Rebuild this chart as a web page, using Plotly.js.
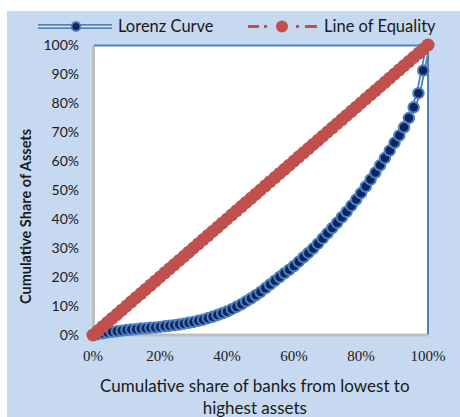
<!DOCTYPE html>
<html><head><meta charset="utf-8">
<script src="https://cdn.plot.ly/plotly-3.0.1.min.js"></script>
<style>html,body{margin:0;padding:0;background:#fff}#chart{width:460px;height:417px}</style>
</head><body><div id="chart"></div>
<script>
// Lorenz curve: cumulative share of assets (%) for banks sorted from lowest to highest assets
const lorenzY = [0,0.3,0.6,0.9,1.1,1.3,1.5,1.7,1.9,2.0,2.2,2.3,2.5,2.6,2.8,3.0,3.2,3.4,3.6,3.9,4.2,4.5,4.9,5.3,5.8,6.3,6.9,7.5,8.1,8.9,9.7,10.6,11.6,12.6,13.7,14.8,16.1,17.4,18.7,20.0,21.3,22.5,23.8,25.3,26.8,28.3,29.8,31.5,33.3,35.1,36.9,38.7,40.6,42.5,44.6,46.7,48.9,51.2,53.6,56.0,58.5,61.0,63.6,66.3,68.8,71.6,74.8,78.5,83.4,91.2,100];
const nBanks = lorenzY.length - 1;
const bankShare = lorenzY.map((_, i) => i / nBanks);            // cumulative share of banks
const lorenzShare = lorenzY.map(v => v / 100);
const equalityShare = bankShare.slice();                        // line of equality: y = x
const xTicks = [0, 0.2, 0.4, 0.6, 0.8, 1.0];
const yTicks = [0, 0.1, 0.2, 0.3, 0.4, 0.5, 0.6, 0.7, 0.8, 0.9, 1.0];
const seriesNames = ['Lorenz Curve', 'Line of Equality'];
const xTitleLines = ['Cumulative share of banks from lowest to', 'highest assets'];
const yTitle = 'Cumulative Share of Assets';

const L = 93, R = 428, T = 45, B = 335;
const px = x => (x - L) / (R - L);
const py = y => (B - y) / (B - T);
const BLUE = '#4f81bd', NAVY = '#0c2461', RED = '#c0504d', BG = '#c6d9f1';
const sans = 'Lato, "Liberation Sans", sans-serif';

const traces = [
  {x: bankShare, y: lorenzShare, mode: 'lines', line: {color: BLUE, width: 5}, showlegend: false, cliponaxis: false, hoverinfo: 'skip'},
  {x: bankShare, y: lorenzShare, mode: 'lines', line: {color: '#ffffff', width: 1.3}, showlegend: false, cliponaxis: false, hoverinfo: 'skip'},
  {x: bankShare, y: lorenzShare, mode: 'markers', name: seriesNames[0], showlegend: false, cliponaxis: false,
   marker: {size: 10.5, color: NAVY, line: {color: BLUE, width: 2}}},
  {x: bankShare, y: equalityShare, mode: 'lines+markers', name: seriesNames[1], showlegend: false, cliponaxis: false,
   line: {color: RED, width: 3, dash: 'dashdot'}, marker: {size: 13, color: RED}}
];

const shapes = [
  {type: 'rect', xref: 'paper', yref: 'paper', x0: px(0), x1: px(460), y0: py(0), y1: py(11), fillcolor: '#fff', line: {width: 0}},
  {type: 'rect', xref: 'paper', yref: 'paper', x0: px(0), x1: px(7), y0: py(0), y1: py(417), fillcolor: '#fff', line: {width: 0}},
  // plot border
  {type: 'line', xref: 'paper', yref: 'paper', x0: px(93.5), x1: px(93.5), y0: py(45), y1: py(336), line: {color: '#bfbfbf', width: 3}, layer: 'below'},
  {type: 'line', xref: 'paper', yref: 'paper', x0: px(92), x1: px(429), y0: py(335), y1: py(335), line: {color: '#bfbfbf', width: 3}, layer: 'below'},
  {type: 'line', xref: 'paper', yref: 'paper', x0: px(94), x1: px(429), y0: py(45.5), y1: py(45.5), line: {color: BLUE, width: 2}, layer: 'below'},
  {type: 'line', xref: 'paper', yref: 'paper', x0: px(428), x1: px(428), y0: py(45), y1: py(334), line: {color: BLUE, width: 2}, layer: 'below'},
  // legend: Lorenz (double line + marker)
  {type: 'line', xref: 'paper', yref: 'paper', x0: px(38), x1: px(112), y0: py(26.5), y1: py(26.5), line: {color: BLUE, width: 5}},
  {type: 'line', xref: 'paper', yref: 'paper', x0: px(38), x1: px(112), y0: py(26.5), y1: py(26.5), line: {color: '#dfe9f6', width: 1.3}},
  {type: 'circle', xref: 'paper', yref: 'paper', x0: px(71.5), x1: px(80.5), y0: py(22), y1: py(31), fillcolor: NAVY, line: {color: BLUE, width: 1.8}},
  // legend: Line of Equality (dash-dot + marker)
  {type: 'line', xref: 'paper', yref: 'paper', x0: px(248), x1: px(259), y0: py(26.5), y1: py(26.5), line: {color: RED, width: 3}},
  {type: 'line', xref: 'paper', yref: 'paper', x0: px(264), x1: px(267), y0: py(26.5), y1: py(26.5), line: {color: RED, width: 3}},
  {type: 'circle', xref: 'paper', yref: 'paper', x0: px(276), x1: px(288), y0: py(20.5), y1: py(32.5), fillcolor: RED, line: {color: RED, width: 0}},
  {type: 'line', xref: 'paper', yref: 'paper', x0: px(296), x1: px(299), y0: py(26.5), y1: py(26.5), line: {color: RED, width: 3}},
  {type: 'line', xref: 'paper', yref: 'paper', x0: px(305), x1: px(317), y0: py(26.5), y1: py(26.5), line: {color: RED, width: 3}}
];

const annotations = [
  {xref: 'paper', yref: 'paper', x: px(116), y: py(26.5), xanchor: 'left', yanchor: 'middle', showarrow: false,
   text: seriesNames[0], font: {family: sans, size: 16.5, color: '#1a1a1a'}},
  {xref: 'paper', yref: 'paper', x: px(322), y: py(26.5), xanchor: 'left', yanchor: 'middle', showarrow: false,
   text: seriesNames[1], font: {family: sans, size: 16.5, color: '#1a1a1a'}},
  {xref: 'paper', yref: 'paper', x: px(255), y: py(396.5), xanchor: 'center', yanchor: 'middle', showarrow: false,
   text: xTitleLines.join('<br>'), font: {family: sans, size: 17, color: '#1a1a1a'}},
  {xref: 'paper', yref: 'paper', x: px(25), y: py(217), xanchor: 'center', yanchor: 'middle', showarrow: false, textangle: -90,
   text: '<b>' + yTitle + '</b>', font: {family: sans, size: 14.5, color: '#1a1a1a'}}
];

const layout = {
  width: 460, height: 417,
  margin: {l: L, r: 460 - R, t: T, b: 417 - B, pad: 0},
  paper_bgcolor: BG, plot_bgcolor: '#ffffff',
  showlegend: false,
  xaxis: {range: [0, 1], tickvals: xTicks, tickformat: '.0%', showgrid: false, zeroline: false, showline: false,
          ticks: '', ticklabelstandoff: 10, tickfont: {family: '"Liberation Serif", serif', size: 15, color: '#1a1a1a'}, fixedrange: true},
  yaxis: {range: [0, 1], tickvals: yTicks, tickformat: '.0%', showgrid: false, zeroline: false, showline: false,
          ticks: '', ticklabelstandoff: 13, tickfont: {family: sans, size: 14, color: '#1a1a1a'}, fixedrange: true},
  shapes: shapes, annotations: annotations
};

Plotly.newPlot('chart', traces, layout, {displayModeBar: false, staticPlot: true});
</script></body></html>
